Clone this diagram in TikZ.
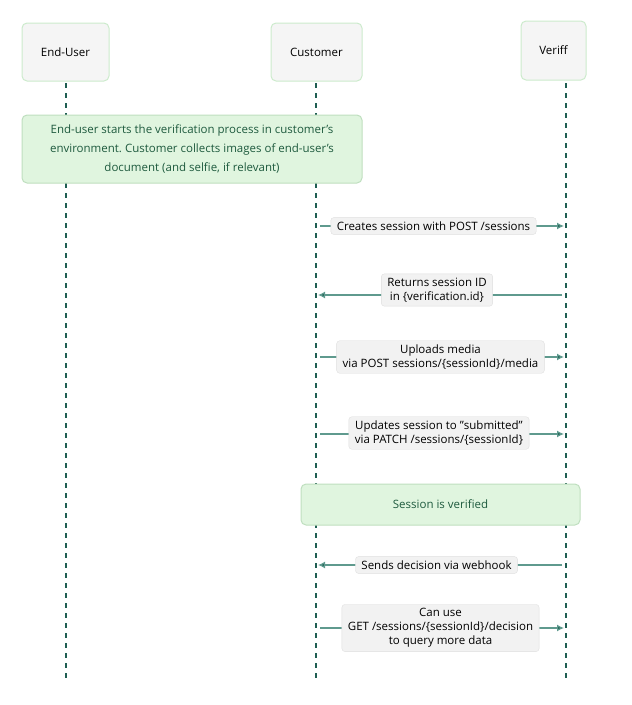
\documentclass[tikz,border=0pt]{standalone}
\usepackage{fontspec}
\setmainfont{Open Sans}
\usetikzlibrary{arrows.meta}
\definecolor{notefill}{HTML}{E0F5DF}
\definecolor{teal2}{HTML}{1F5E52}
\definecolor{teal3}{HTML}{5F9A8E}
\definecolor{notetext}{HTML}{1E5A3E}
\newcommand{\dq}{\symbol{"22}}
\newcommand{\sq}{\symbol{"27}}
\frenchspacing
\begin{document}
\begin{tikzpicture}[x=1pt,y=-1pt,
 actor/.style={draw=green!60!black!20,fill=gray!8,rounded corners=5pt,line width=1pt,font=\fontsize{11.5}{14}\selectfont},
 note/.style={draw=green!50!black!25,fill=notefill,rounded corners=5pt,line width=1pt,text=notetext},
 lbl/.style={draw=gray!25,fill=gray!10,rounded corners=3pt,inner xsep=6pt,inner ysep=4pt,align=center,font=\fontsize{11.5}{14}\selectfont},
 life/.style={draw=teal2,line width=1.2pt,dash pattern=on 5pt off 5pt},
 msg/.style={draw=teal3,line width=1.2pt,-{Latex[length=7pt,width=7pt,fill=teal2]},shorten >=2pt, shorten <=4pt}]
\useasboundingbox (0,0) rectangle (632,705);
% lifelines
\coordinate (a1) at (66,83); \coordinate (a2) at (66,680);
\coordinate (b1) at (316,83); \coordinate (b2) at (316,680);
\coordinate (c1) at (566,83); \coordinate (c2) at (566,680);
\draw[life] (a1)--(a2); \draw[life] (b1)--(b2); \draw[life] (c1)--(c2);
\node[actor,minimum width=87pt,minimum height=58pt] (eu) at (65.5,52) {End-User};
\node[actor,minimum width=91pt,minimum height=58pt] (cu) at (316.5,52) {Customer};
\node[actor,minimum width=65pt,minimum height=59pt] (ve) at (553.5,50.5) {Veriff};
\node[note,minimum width=340pt,minimum height=68pt,align=center,font=\fontsize{11.5}{19}\selectfont] (n1) at (192,149) {End-user starts the verification process in customer\sq s\\environment. Customer collects images of end-user\sq s\\document (and selfie, if relevant)};
\node[note,minimum width=279pt,minimum height=41pt,font=\fontsize{11.5}{14}\selectfont] (n2) at (440.5,504.5) {Session is verified};
% messages
\foreach \n/\y in {m1/226,m2/295,m3/357,m4/434,m5/565,m6/628}{
 \coordinate (\n b) at (316,\y); \coordinate (\n c) at (566,\y);}
\draw[msg] (m1b)--(m1c); \draw[msg] (m2c)--(m2b); \draw[msg] (m3b)--(m3c);
\draw[msg] (m4b)--(m4c); \draw[msg] (m5c)--(m5b); \draw[msg] (m6b)--(m6c);
\node[lbl] (l1) at (433.5,226) {Creates session with POST /sessions};
\node[lbl] (l2) at (437,290) {Returns session ID\\in \{verification.id\}};
\node[lbl] (l3) at (440.5,357) {Uploads media\\via POST sessions/\{sessionId\}/media};
\node[lbl] (l4) at (439,433) {Updates session to \dq submitted\dq\\via PATCH /sessions/\{sessionId\}};
\node[lbl] (l5) at (436.5,565) {Sends decision via webhook};
\node[lbl] (l6) at (440.5,628) {Can use\\GET /sessions/\{sessionId\}/decision\\to query more data};
\end{tikzpicture}
\end{document}
